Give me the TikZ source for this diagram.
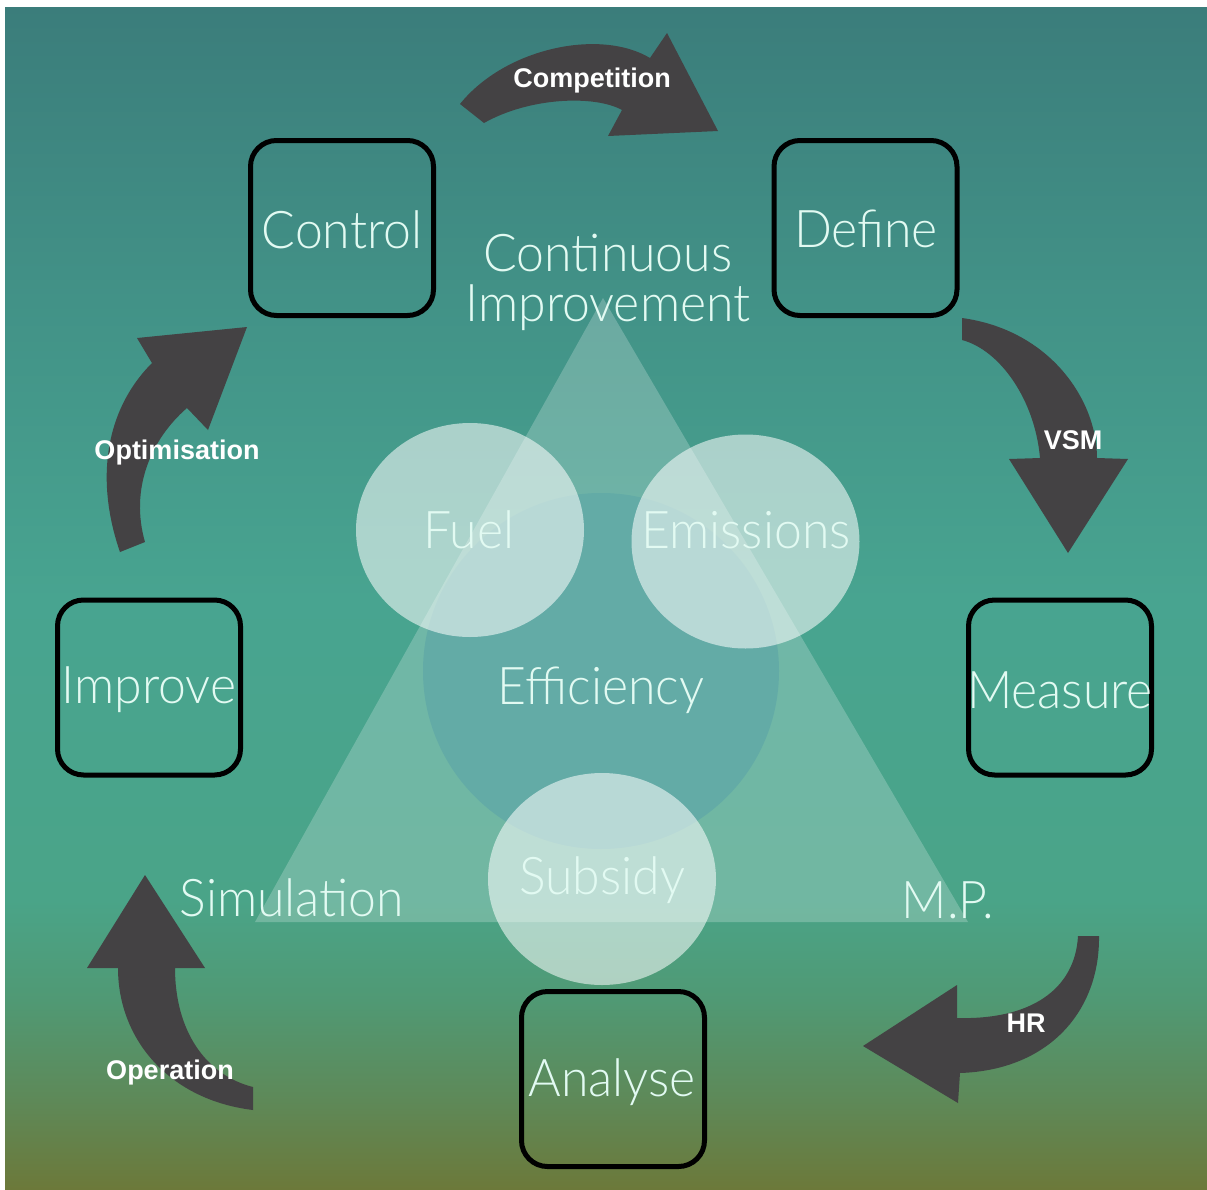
\documentclass[tikz,border=0pt]{standalone}
\usepackage{fontspec}
\setmainfont{Liberation Sans}
\IfFontExistsTF{Lato Light}
  {\newfontfamily\thinfont{Lato Light}[FakeStretch=0.96]}
  {\newfontfamily\thinfont{Lato}[FakeStretch=0.96]}
\definecolor{g0}{RGB}{59,125,123}
\definecolor{g1}{RGB}{66,146,135}
\definecolor{g2}{RGB}{72,164,144}
\definecolor{g3}{RGB}{74,164,136}
\definecolor{g4}{RGB}{80,153,116}
\definecolor{g5}{RGB}{94,137,88}
\definecolor{g6}{RGB}{108,121,58}
\definecolor{arrowc}{RGB}{68,66,68}
\definecolor{txt}{RGB}{226,250,242}
\definecolor{effc}{RGB}{99,171,166}
\tikzset{
  stagebox/.style={draw=black, line width=5pt, rounded corners=26pt,
    minimum width=183pt, minimum height=175pt, inner sep=0pt},
  thintext/.style={text=txt, inner sep=0pt, font=\thinfont\fontsize{52}{52}\selectfont},
  arrowlabel/.style={text=white, inner sep=0pt, font=\bfseries\fontsize{27}{27}\selectfont},
  bigarrow/.style={fill=arrowc, draw=none},
}
\begin{document}
\begin{tikzpicture}[x=1pt,y=-1pt]
\useasboundingbox (0,0) rectangle (1207,1189);
\fill[white] (0,0) rectangle (1207,1189);
% background gradient
\shade[top color=g0,bottom color=g1] (5,7) rectangle (1207,300.5);
\shade[top color=g1,bottom color=g2] (5,300) rectangle (1207,600.5);
\shade[top color=g2,bottom color=g3] (5,600) rectangle (1207,900.5);
\shade[top color=g3,bottom color=g4] (5,900) rectangle (1207,1000.5);
\shade[top color=g4,bottom color=g5] (5,1000) rectangle (1207,1100.5);
\shade[top color=g5,bottom color=g6] (5,1100) rectangle (1207,1189);
% central triangle and circles
\fill[white, opacity=.22] (603,298) -- (968,922) -- (255,922) -- cycle;
\fill[effc] (601,671) circle[radius=178];
\fill[white, opacity=.55] (470,530) ellipse[x radius=114, y radius=107];
\fill[white, opacity=.55] (745.5,541.5) ellipse[x radius=114, y radius=107];
\fill[white, opacity=.55] (602,879) ellipse[x radius=114, y radius=106];
% curved arrows
\fill[bigarrow] (460,104) .. controls (505,48) and (600,28) .. (650,58)
  -- (667,33) -- (718,131) -- (608,136) -- (622,110)
  .. controls (595,95) and (530,97) .. (484,123) -- cycle;
\fill[bigarrow] (962,318) .. controls (1050,330) and (1097,400) .. (1097,458)
  -- (1128,459) -- (1068,553) -- (1009,459) -- (1040,458)
  .. controls (1035,400) and (1000,350) .. (962,340) -- cycle;
\fill[bigarrow] (1078,936) .. controls (1075,990) and (1030,1020) .. (957,1018)
  -- (957,985) -- (863,1046) -- (958,1103) -- (960,1073)
  .. controls (1050,1070) and (1100,1010) .. (1099,936) -- cycle;
\fill[bigarrow] (253,1110) .. controls (170,1100) and (118,1040) .. (118,968)
  -- (87,968) -- (145,875) -- (205,968) -- (175,968)
  .. controls (175,1030) and (205,1075) .. (253,1087) -- cycle;
\fill[bigarrow] (120,552) .. controls (95,480) and (105,410) .. (152,363)
  -- (137,338) -- (247,327) -- (208,430) -- (187,408)
  .. controls (150,440) and (130,490) .. (145,542) -- cycle;
% arrow labels
\node[arrowlabel] (lcomp) at (592,81) {Competition};
\node[arrowlabel] (lvsm) at (1073,440) {VSM};
\node[arrowlabel] (lhr) at (1026,1023) {HR};
\node[arrowlabel] (lop) at (170,1073) {Operation};
\node[arrowlabel] (lopt) at (177,453) {Optimisation};
% stage boxes
\node[stagebox] (control) at (342,228) {};
\node[stagebox] (define) at (865.5,228) {};
\node[stagebox] (measure) at (1060,687.5) {};
\node[stagebox] (improve) at (149,687.5) {};
\node[stagebox] (analyse) at (613,1079) {};
\node[thintext] (tcontrol) at (342,230) {Control};
\node[thintext] (tdefine) at (866,229) {Define};
\node[thintext] (tmeasure) at (1060,690) {Measure};
\node[thintext] (timprove) at (149,690) {Improve};
\node[thintext] (tanalyse) at (612,1082) {Analyse};
% central texts
\node[thintext, align=center, font=\thinfont\fontsize{52}{50}\selectfont] (ci) at (608,282) {Continuous\\Improvement};
\node[thintext] (fuel) at (469,530) {Fuel};
\node[thintext] (emis) at (746,530) {Emissions};
\node[thintext] (eff) at (601,690) {Efficiency};
\node[thintext] (subs) at (602,880) {Subsidy};
\node[thintext] (sim) at (292,898) {Simulation};
\node[thintext] (mp) at (948,900) {M.P.};
\end{tikzpicture}
\end{document}
